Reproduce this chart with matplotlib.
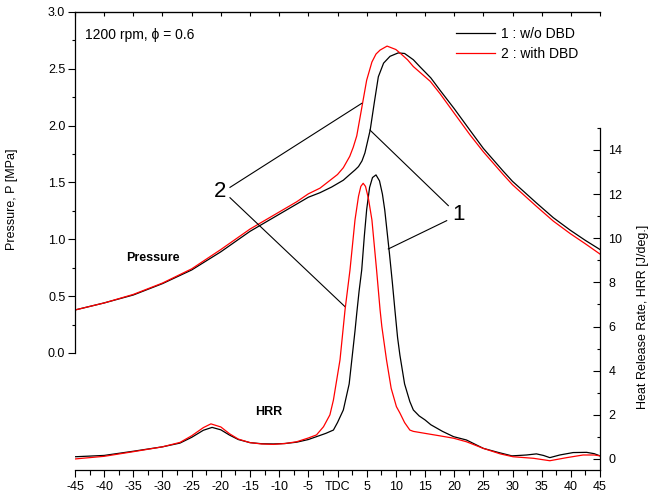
import matplotlib
matplotlib.use("Agg")
import matplotlib.pyplot as plt
from matplotlib.ticker import MultipleLocator, FixedLocator

plt.rcParams['font.family'] = ['Liberation Sans', 'DejaVu Sans']

# Presion en el cilindro (MPa)
p_deg_1 = [-45, -40, -35, -30, -25, -20, -15, -10, -7, -5, -3, -1, 0, 1, 2.1, 3.0, 3.6, 4.2, 4.7, 5.6, 6.3,
           7.0, 7.9, 9.0, 10.4, 11.5, 13, 14.1, 16, 17.6, 20, 22.7, 25, 28.4, 30, 34.1, 37, 39.9, 42.5, 45]
p_wo_dbd = [0.378, 0.44, 0.51, 0.61, 0.73, 0.89, 1.07, 1.22, 1.31, 1.37, 1.41, 1.46, 1.49, 1.52, 1.57, 1.61,
            1.64, 1.69, 1.76, 1.96, 2.20, 2.43, 2.55, 2.61, 2.64, 2.635, 2.58, 2.52, 2.42, 2.31, 2.15, 1.96,
            1.80, 1.60, 1.51, 1.32, 1.19, 1.08, 0.99, 0.91]
p_deg_2 = [-45, -40, -35, -30, -25, -20, -15, -10, -7, -5, -3, -1, 0, 1, 2.1, 2.7, 3.3, 4.1, 5.0, 5.9,
           6.6, 7.3, 8.5, 10, 10.7, 12, 13, 15.9, 17.6, 20, 22.7, 25, 28.4, 30, 34.1, 37, 39.9, 42.5, 45]
p_with_dbd = [0.378, 0.44, 0.515, 0.615, 0.74, 0.91, 1.09, 1.24, 1.33, 1.40, 1.45, 1.53, 1.57, 1.63, 1.73,
              1.81, 1.91, 2.14, 2.40, 2.56, 2.63, 2.665, 2.70, 2.67, 2.64, 2.58, 2.52, 2.39, 2.28, 2.11,
              1.92, 1.77, 1.57, 1.48, 1.29, 1.16, 1.05, 0.96, 0.87]

# Tasa de liberacion de calor (J/deg.)
h_deg_1 = [-45, -40, -35, -30, -27, -25, -23, -21.5, -20, -18.5, -17, -15, -13, -11, -9, -7, -5, -3.5, -2,
           -0.7, 0, 1.0, 2.0, 2.5, 3.0, 3.3, 3.7, 4.15, 4.6, 5.0, 5.5, 6.0, 6.6, 7.2, 7.7, 8.1, 8.5, 8.9,
           9.4, 9.86, 10.3, 10.7, 11.5, 12.4, 13.0, 14.0, 15.0, 16, 18, 19.9, 22.1, 25, 27.5, 29.9, 32.4,
           34.1, 35.3, 36.4, 38.1, 40.4, 42.7, 44, 45]
hrr_wo_dbd = [0.10, 0.16, 0.35, 0.55, 0.72, 0.98, 1.30, 1.43, 1.32, 1.08, 0.88, 0.74, 0.69, 0.68, 0.70, 0.76,
              0.88, 1.02, 1.16, 1.31, 1.65, 2.22, 3.4, 4.6, 5.8, 6.6, 7.6, 8.56, 10.1, 11.3, 12.3, 12.75,
              12.87, 12.6, 12.0, 11.28, 10.3, 9.32, 8.0, 6.7, 5.5, 4.7, 3.4, 2.6, 2.22, 1.95, 1.77, 1.55,
              1.25, 1.01, 0.86, 0.48, 0.30, 0.14, 0.18, 0.23, 0.16, 0.06, 0.18, 0.29, 0.30, 0.24, 0.14]
h_deg_2 = [-45, -40, -35, -30, -27, -25, -23, -21.7, -20, -18.5, -17, -15, -13, -11, -9, -7, -5, -3.6, -2.4,
           -1.3, -0.7, 0.43, 1.29, 2.14, 3.0, 3.6, 4.0, 4.4, 4.8, 5.3, 5.9, 6.7, 7.3, 7.6, 8.4, 9.2, 10.1,
           10.7, 11.5, 12.4, 13.0, 15.0, 17.5, 19.9, 22.1, 25, 27.9, 30.1, 33.6, 36.4, 39.3, 42.1, 44, 45]
hrr_with_dbd = [0.0, 0.12, 0.33, 0.55, 0.75, 1.05, 1.42, 1.59, 1.45, 1.14, 0.90, 0.74, 0.68, 0.66, 0.70, 0.78,
                0.95, 1.09, 1.46, 2.0, 2.67, 4.49, 6.75, 8.56, 10.83, 11.9, 12.35, 12.49, 12.35, 11.8, 10.83,
                8.56, 6.75, 6.0, 4.49, 3.2, 2.37, 2.08, 1.65, 1.31, 1.25, 1.16, 1.05, 0.94, 0.78, 0.48, 0.23,
                0.10, 0.03, -0.08, 0.06, 0.18, 0.18, 0.14]

x_ticks = list(range(-45, 50, 5))
x_labels = ['TDC' if t == 0 else str(t) for t in x_ticks]

fig = plt.figure(figsize=(6.59, 4.99), dpi=100)
ax = fig.add_axes([75 / 659, 29 / 499, 525 / 659, 458 / 499])
ax2 = ax.twinx()

# curvas de presion (eje izquierdo)
ax.plot(p_deg_1, p_wo_dbd, color='black', lw=0.9, label='1 : w/o DBD')
ax.plot(p_deg_2, p_with_dbd, color='red', lw=0.9, label='2 : with DBD')
# curvas de HRR (eje derecho)
ax2.plot(h_deg_1, hrr_wo_dbd, color='black', lw=0.9)
ax2.plot(h_deg_2, hrr_with_dbd, color='red', lw=0.9)

ax.set_xlim(-45, 45)
ax.set_ylim(-1.03, 3.0)
ax2.set_ylim(-0.5, 20.25)

# eje x
ax.xaxis.set_major_locator(FixedLocator(x_ticks))
ax.set_xticklabels(x_labels)
ax.xaxis.set_minor_locator(MultipleLocator(2.5))
ax.tick_params(axis='x', which='major', direction='out', length=5, width=0.8, labelsize=9, pad=3)
ax.tick_params(axis='x', which='minor', direction='out', length=3.5, width=0.8)

# eje izquierdo
ax.yaxis.set_major_locator(FixedLocator([0, 0.5, 1.0, 1.5, 2.0, 2.5, 3.0]))
ax.yaxis.set_minor_locator(FixedLocator([0.25, 0.75, 1.25, 1.75, 2.25, 2.75]))
ax.tick_params(axis='y', which='major', direction='out', length=5, width=0.8, labelsize=9, pad=2)
ax.tick_params(axis='y', which='minor', direction='out', length=2.5, width=0.8)
ax.spines['left'].set_bounds(0, 3.0)
ax.spines['right'].set_visible(False)
ax.set_ylabel('Pressure, P [MPa]', fontsize=9)
ax.yaxis.set_label_coords(-0.109, 0.592)

# eje superior: solo marcas hacia dentro
top = ax.secondary_xaxis('top')
top.xaxis.set_major_locator(MultipleLocator(5))
top.tick_params(direction='in', length=3, width=0.8, labeltop=False)

# eje derecho
for s in ['left', 'top', 'bottom']:
    ax2.spines[s].set_visible(False)
ax2.spines['right'].set_bounds(-0.5, 15)
ax2.yaxis.set_major_locator(FixedLocator(list(range(0, 15, 2))))
ax2.yaxis.set_minor_locator(FixedLocator(list(range(1, 16, 2))))
ax2.tick_params(axis='y', which='major', direction='in', length=5, width=0.8, labelsize=9, pad=6)
ax2.tick_params(axis='y', which='minor', direction='in', length=2.5, width=0.8)
ax2.set_ylabel('Heat Release Rate, HRR [J/deg.]', fontsize=9)
ax2.yaxis.set_label_coords(1.070, 0.334)

for a in (ax, ax2):
    for s in a.spines.values():
        s.set_linewidth(0.9)

# textos
ax.text(0.019, 0.950, '1200 rpm, \u03d5 = 0.6', transform=ax.transAxes, fontsize=10, va='center')
ax.text(-36.26, 0.836, 'Pressure', fontsize=9, fontweight='bold', va='center')
ax.text(-14.14, -0.519, 'HRR', fontsize=9, fontweight='bold', va='center')

# lineas que identifican las curvas
ax.text(-20.14, 1.419, '2', fontsize=16, ha='center', va='center')
ax.plot([-18.43, 4.15], [1.457, 2.196], color='black', lw=0.8)
ax.plot([-18.43, 1.29], [1.366, 0.407], color='black', lw=0.8)
ax.text(20.66, 1.214, '1', fontsize=16, ha='center', va='center')
ax.plot([19.0, 5.57], [1.296, 1.961], color='black', lw=0.8)
ax.plot([18.72, 8.71], [1.164, 0.915], color='black', lw=0.8)

ax.legend(loc='upper left', bbox_to_anchor=(0.726, 0.967), frameon=False, fontsize=10,
          handlelength=2.8, handletextpad=0.4, borderpad=0, borderaxespad=0, labelspacing=0.4)

fig.savefig('out.png', dpi=100)
